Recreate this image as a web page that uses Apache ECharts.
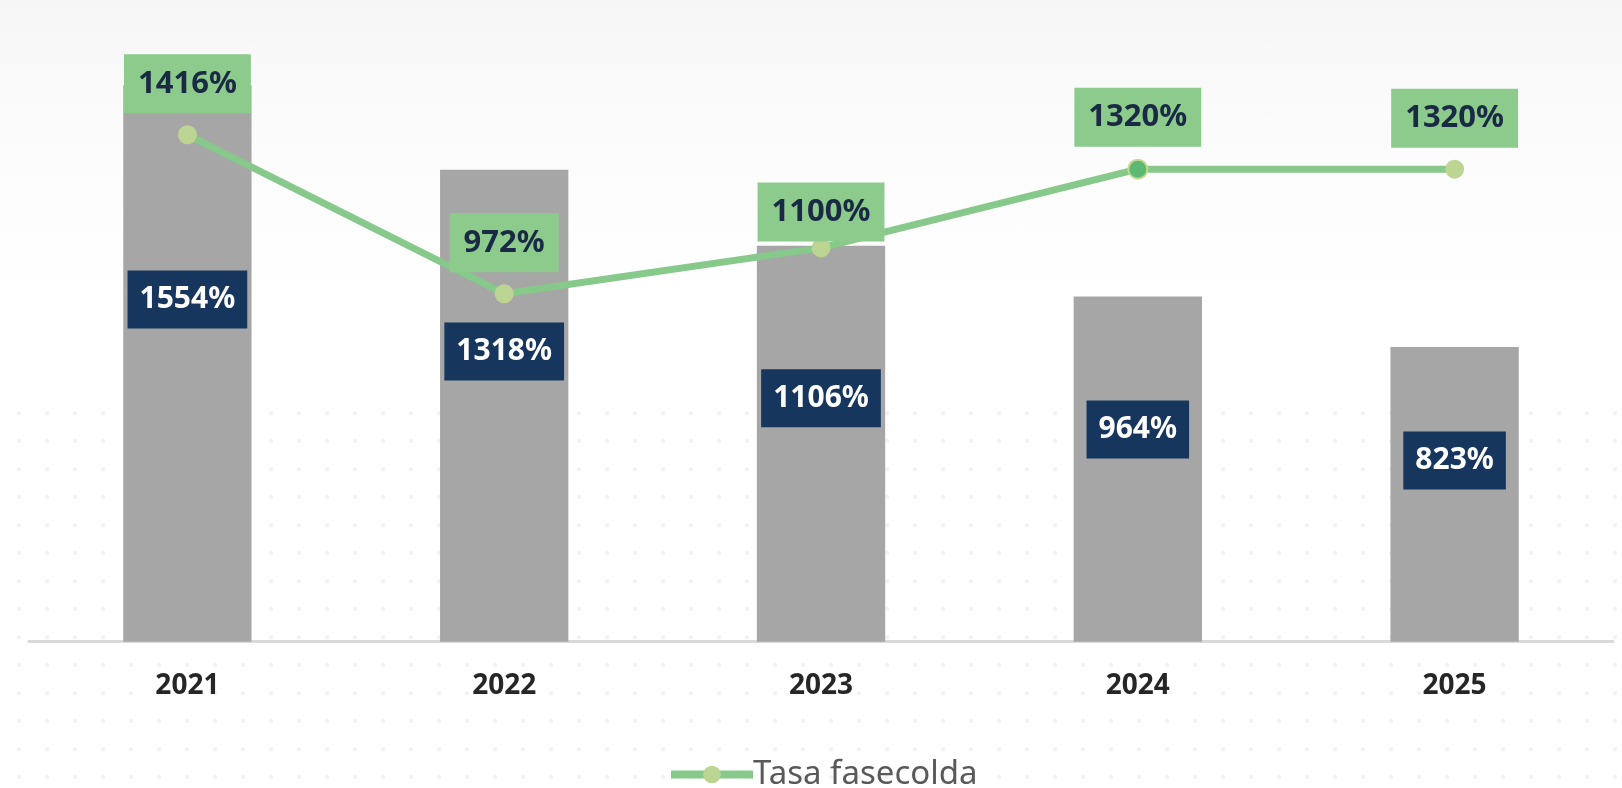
<!DOCTYPE html>
<html>
<head>
<meta charset="utf-8">
<script src="https://cdn.jsdelivr.net/npm/echarts@6/dist/echarts.min.js"></script>
<style>
  html, body { margin: 0; padding: 0; width: 1622px; height: 788px; overflow: hidden; background: #ffffff; }
  #bg1 { position: absolute; left: 0; top: 0; width: 1622px; height: 300px;
         background: linear-gradient(to bottom, #f6f6f7 0px, #fbfbfc 120px, #ffffff 300px); }
  #bg2 { position: absolute; left: 5px; top: 399px; width: 1612px; height: 389px;
         background-image: radial-gradient(circle, #f3f3f3 0px, #f3f3f3 2px, rgba(255,255,255,0) 2.6px);
         background-size: 28px 28px; }
  #chart { position: absolute; left: 0; top: 0; width: 1622px; height: 788px; }
</style>
</head>
<body>
<div id="bg1"></div>
<div id="bg2"></div>
<div id="chart"></div>
<script>
const categories = ['2021', '2022', '2023', '2024', '2025'];
const barValues = [1554, 1318, 1106, 964, 823];
const lineValues = [1416, 972, 1100, 1320, 1320];
const lineName = 'Tasa fasecolda';

const chart = echarts.init(document.getElementById('chart'), null, { renderer: 'canvas' });

const FONT = '"Noto Sans", "DejaVu Sans", sans-serif';

const lineData = lineValues.map((v, i) => {
  const item = { value: v };
  if (i === 3) {
    item.itemStyle = { color: '#5db872', borderColor: '#c3d994', borderWidth: 2 };
  }
  if (i === 2) {
    item.label = { distance: -3 };
  }
  return item;
});

const option = {
  animation: false,
  backgroundColor: 'transparent',
  grid: { left: 29, right: 9, top: 68.9, bottom: 146.3, containLabel: false },
  legend: {
    data: [lineName],
    left: 662,
    top: 753,
    itemWidth: 82,
    itemHeight: 22,
    itemGap: 10,
    lineStyle: { width: 8, color: '#86c98a' },
    textStyle: { fontFamily: FONT, fontSize: 33, color: '#595959', padding: [0, 0, 0, -5] }
  },
  xAxis: {
    type: 'category',
    data: categories,
    boundaryGap: true,
    axisLine: { show: true, lineStyle: { color: '#d9d9d9', width: 3 } },
    axisTick: { show: false },
    axisLabel: { fontFamily: FONT, fontWeight: 'bold', fontSize: 28, color: '#262626', margin: 30 },
    splitLine: { show: false }
  },
  yAxis: {
    type: 'value',
    min: 0,
    max: 1600,
    show: false,
    splitLine: { show: false }
  },
  series: [
    {
      name: 'Barras',
      type: 'bar',
      data: barValues,
      barWidth: '40.5%',
      itemStyle: { color: '#a6a6a6' },
      label: {
        show: true,
        position: ['50%', '38.5%'],
        align: 'center',
        verticalAlign: 'middle',
        formatter: p => p.value + '%',
        fontFamily: FONT,
        fontWeight: 'bold',
        fontSize: 30,
        lineHeight: 34,
        color: '#ffffff',
        backgroundColor: '#17365d',
        padding: [12, 12]
      },
      z: 2
    },
    {
      name: lineName,
      type: 'line',
      data: lineData,
      symbol: 'circle',
      symbolSize: 19,
      lineStyle: { color: '#86c98a', width: 7 },
      itemStyle: { color: '#bcd593' },
      label: {
        show: true,
        position: 'top',
        distance: 12,
        formatter: p => p.value + '%',
        fontFamily: FONT,
        fontWeight: 'bold',
        fontSize: 31,
        lineHeight: 35,
        color: '#1b2a44',
        backgroundColor: '#8dcb8d',
        padding: [12, 14]
      },
      z: 3
    }
  ]
};

chart.setOption(option);
</script>
</body>
</html>
